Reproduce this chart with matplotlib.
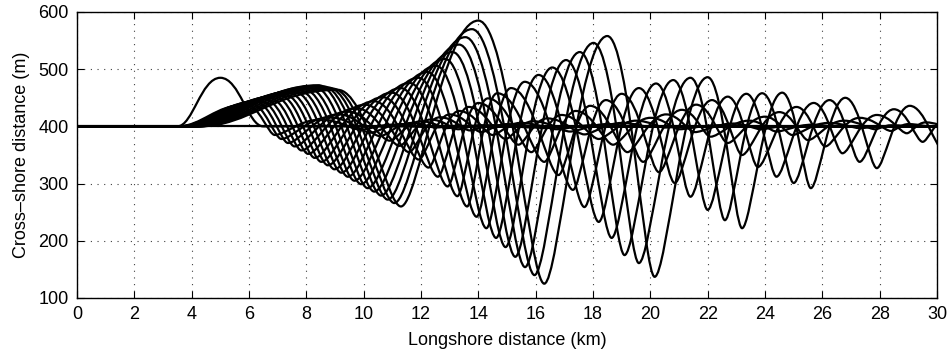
import matplotlib
matplotlib.use("Agg")
import matplotlib.pyplot as plt
from matplotlib.path import Path
from matplotlib.patches import PathPatch

plt.rcParams['font.family'] = ['Liberation Sans', 'DejaVu Sans']

# ---------------- data ----------------
x_ticks = list(range(0, 31, 2))
y_ticks = [100, 200, 300, 400, 500, 600]
base_level = 400

# initial bump (knots: x, y)
bump_x = [0.0, 3.5, 5.0, 6.5, 30.0]
bump_y = [400, 400, 485, 400, 400]
bump_kind = ['f', 'f', 'c', 'f', 'f']

# later snapshots: start of departure + successive crests (c) / troughs (t)
start_x = [3.50, 3.54, 3.58, 3.62, 3.66, 3.70, 3.74, 3.78, 3.82, 3.86,
           3.90, 3.94, 3.98, 4.02, 4.06, 4.10, 4.14, 4.18, 4.22, 4.26]

c1_x = [5.90, 6.07, 6.24, 6.40, 6.57, 6.74, 6.91, 7.08, 7.24, 7.41,
        7.58, 7.75, 7.92, 8.08, 8.25, 8.42, 8.59, 8.76, 8.92, 9.09]
c1_y = [438, 440, 443, 445, 447, 449, 452, 454, 456, 458,
        461, 463, 465, 467, 470, 472, 470, 468, 466, 464]

t1_x = [6.90, 7.13, 7.36, 7.59, 7.83, 8.06, 8.29, 8.52, 8.75, 8.98,
        9.22, 9.45, 9.68, 9.91, 10.14, 10.37, 10.61, 10.84, 11.07, 11.30]
t1_y = [385, 378, 371, 365, 358, 352, 345, 338, 332, 325,
        319, 312, 305, 299, 292, 286, 279, 272, 266, 260]

c2_x = [8.50, 8.81, 9.12, 9.43, 9.74, 10.05, 10.36, 10.67, 10.98, 11.29,
        11.60, 11.91, 12.22, 12.53, 12.84, 13.10, 13.33, 13.55, 13.78, 14.00]
c2_y = [412, 416, 421, 426, 432, 438, 444, 451, 459, 467,
        476, 485, 495, 506, 518, 530, 543, 556, 570, 585]

t2_x = [9.90, 10.24, 10.57, 10.91, 11.25, 11.58, 11.92, 12.26, 12.59, 12.93,
        13.27, 13.61, 13.94, 14.28, 14.62, 14.95, 15.29, 15.63, 15.96, 16.30]
t2_y = [394, 389, 383, 375, 366, 355, 342, 328, 312, 295,
        278, 260, 242, 222, 205, 189, 172, 154, 140, 125]

c3_x = [11.00, 11.33, 11.67, 12.00, 12.33, 12.66, 13.00, 13.33, 13.66, 14.00,
        14.33, 14.66, 15.14, 15.62, 16.10, 16.58, 17.06, 17.54, 18.02, 18.50]
c3_y = [403, 404, 406, 409, 412, 416, 421, 427, 434, 441,
        449, 458, 467, 478, 490, 503, 516, 530, 546, 558]

t3_x = [11.80, 12.10, 12.50, 12.90, 13.30, 13.70, 14.10, 14.50, 14.95, 15.40,
        15.85, 16.30, 16.80, 17.30, 17.70, 18.20, 18.65, 19.10, 19.60, 20.15]
t3_y = [400, 399, 398, 397, 395, 393, 390, 385, 378, 368,
        355, 338, 315, 289, 259, 233, 205, 175, 161, 137]

c4_x = [12.60, 12.90, 13.30, 13.70, 14.10, 14.60, 15.00, 15.45, 15.90, 16.40,
        16.90, 17.40, 17.90, 18.45, 19.00, 19.60, 20.20, 20.80, 21.40, 22.00]
c4_y = [400, 400, 401, 401, 402, 402, 404, 406, 409, 414,
        420, 427, 436, 446, 457, 467, 475, 481, 485, 486]

t4_x = [13.70, 14.10, 14.50, 14.95, 15.40, 15.85, 16.30, 16.75, 17.20, 17.70,
        18.20, 18.70, 19.20, 19.75, 20.30, 20.85, 21.40, 22.00, 22.60, 23.20]
t4_y = [400, 400, 400, 399, 399, 398, 397, 395, 391, 386,
        378, 368, 355, 338, 320, 301, 277, 254, 236, 222]

c5_x = [None, None, None, None, None, None, None, 18.00, 18.50, 19.00,
        19.50, 20.00, 20.55, 21.10, 21.60, 22.15, 22.70, 23.35, 23.90, 24.60]
c5_y = [None, None, None, None, None, None, None, 402, 404, 406,
        410, 415, 421, 429, 438, 446, 452, 457, 458, 459]

t5_x = [None, None, None, None, None, None, None, None, None, 20.00,
        20.50, 21.00, 21.55, 22.10, 22.70, 23.20, 23.75, 24.40, 25.00, 25.60]
t5_y = [None, None, None, None, None, None, None, None, None, 399,
        398, 395, 390, 382, 371, 350, 329, 312, 301, 292]

c6_x = [None, None, None, None, None, None, None, None, None, None,
        None, 22.40, 22.90, 23.45, 24.00, 24.50, 25.10, 25.70, 26.25, 26.80]
c6_y = [None, None, None, None, None, None, None, None, None, None,
        None, 402, 405, 410, 417, 425, 434, 441, 446, 450]

t6_x = [None, None, None, None, None, None, None, None, None, None,
        None, None, 23.85, 24.40, 24.95, 25.50, 26.10, 26.70, 27.30, 27.90]
t6_y = [None, None, None, None, None, None, None, None, None, None,
        None, None, 395, 391, 385, 376, 365, 353, 338, 327]

c7_x = [None, None, None, None, None, None, None, None, None, None,
        None, None, None, 25.65, 26.20, 26.75, 27.30, 27.90, 28.50, 29.05]
c7_y = [None, None, None, None, None, None, None, None, None, None,
        None, None, None, 403, 406, 410, 415, 420, 430, 436]

t7_x = [None, None, None, None, None, None, None, None, None, None,
        None, None, None, None, 27.30, 27.85, 28.40, 28.95, 29.50, 30.20]
t7_y = [None, None, None, None, None, None, None, None, None, None,
        None, None, None, None, 397, 395, 392, 388, 373, 360]

c8_x = [None, None, None, None, None, None, None, None, None, None,
        None, None, None, None, None, 28.40, 29.00, 29.60, 30.30, None]
c8_y = [None, None, None, None, None, None, None, None, None, None,
        None, None, None, None, None, 402, 404, 407, 412, None]

# ---------------- drawing ----------------
HANDLE = {'f': 0.36, 'c': 0.45, 't': 0.22}


def knots_to_path(xs, ys, kinds):
    verts = [(xs[0], ys[0])]
    codes = [Path.MOVETO]
    for i in range(len(xs) - 1):
        x0, y0, k0 = xs[i], ys[i], kinds[i]
        x1, y1, k1 = xs[i + 1], ys[i + 1], kinds[i + 1]
        dx = x1 - x0
        verts += [(x0 + HANDLE[k0] * dx, y0), (x1 - HANDLE[k1] * dx, y1), (x1, y1)]
        codes += [Path.CURVE4] * 3
    return Path(verts, codes)


fig = plt.figure(figsize=(9.52, 3.55), dpi=100)
ax = fig.add_axes([77 / 952, 1 - 298 / 355, (937 - 77) / 952, (298 - 12) / 355])

line_kw = dict(fill=False, edgecolor='black', linewidth=1.6,
               joinstyle='round', capstyle='round', zorder=3)

# flat reference shoreline
ax.plot([0, 30], [base_level, base_level], color='black', lw=1.6, zorder=3)

# initial bump
ax.add_patch(PathPatch(knots_to_path(bump_x, bump_y, bump_kind), **line_kw))

series = [('c', c1_x, c1_y), ('t', t1_x, t1_y), ('c', c2_x, c2_y), ('t', t2_x, t2_y),
          ('c', c3_x, c3_y), ('t', t3_x, t3_y), ('c', c4_x, c4_y), ('t', t4_x, t4_y),
          ('c', c5_x, c5_y), ('t', t5_x, t5_y), ('c', c6_x, c6_y), ('t', t6_x, t6_y),
          ('c', c7_x, c7_y), ('t', t7_x, t7_y), ('c', c8_x, c8_y)]

for k in range(len(start_x)):
    xs = [0.0, start_x[k]]
    ys = [base_level, base_level]
    kinds = ['f', 'f']
    for kind, sx, sy in series:
        if sx[k] is not None:
            xs.append(sx[k])
            ys.append(sy[k])
            kinds.append(kind)
    if xs[-1] < 30:
        xs.append(xs[-1] + 0.8)
        ys.append(base_level)
        kinds.append('f')
        if xs[-1] < 30:
            xs.append(30.0)
            ys.append(base_level)
            kinds.append('f')
    ax.add_patch(PathPatch(knots_to_path(xs, ys, kinds), **line_kw))

ax.set_xlim(0, 30)
ax.set_ylim(100, 600)
ax.set_xticks(x_ticks)
ax.set_yticks(y_ticks)
ax.tick_params(direction='in', top=True, right=True, length=5, width=0.8,
               labelsize=13, pad=6)
for s in ax.spines.values():
    s.set_linewidth(1.0)
    s.set_color('black')
ax.grid(True, linestyle=(0, (1, 5)), color='0.25', linewidth=0.8)
ax.set_axisbelow(True)
ax.set_xlabel('Longshore distance (km)', fontsize=13, labelpad=6)
ax.set_ylabel('Cross\u2013shore distance (m)', fontsize=13, labelpad=6)

fig.savefig('out.png', dpi=100)
